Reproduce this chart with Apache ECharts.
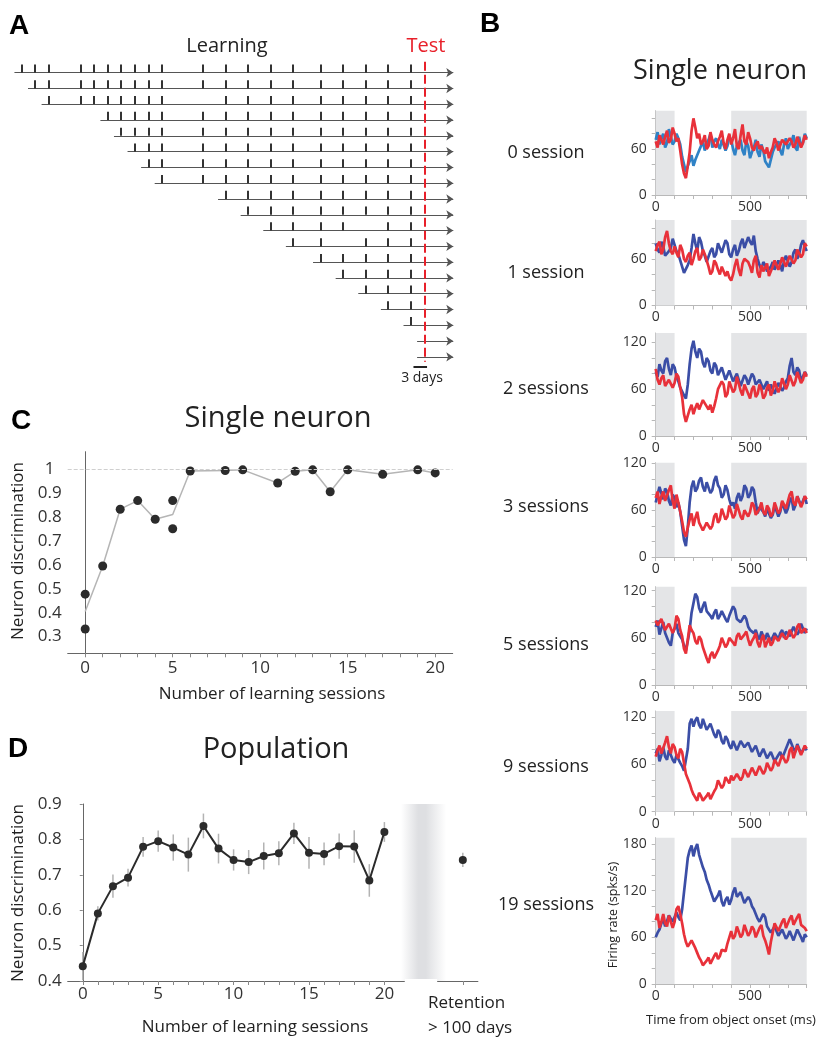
<!DOCTYPE html>
<html>
<head>
<meta charset="utf-8">
<script src="https://cdn.jsdelivr.net/npm/echarts@6/dist/echarts.min.js"></script>
<style>
  html, body { margin: 0; padding: 0; background: #fff; }
  #chart { width: 817px; height: 1052px; }
</style>
</head>
<body>
<div id="chart"></div>
<script>
const FONT = '"Open Sans", "Noto Sans", sans-serif';
const INK = '#2b2b2b';
const RED = '#e8313a';
const BLUE = '#3b4ea6';

// ---------- A: learning schedule (days) ----------
const sessionDays = [0, 3, 6, 13, 16, 19, 22, 25, 28, 31, 40, 45, 50, 55, 60, 66, 71, 76, 81, 86];
const testDay = 89;
// which session columns each object (row) was shown in
const rowSessions = [
  [0,1,2,3,4,5,6,7,8,9,10,11,12,13,14,15,16,17,18,19],
  [1,2,3,4,5,6,7,8,9,10,11,12,13,14,15,16,17,18,19],
  [2,3,4,5,6,7,8,9,11,12,13,14,15,16,17,18,19],
  [5,6,7,8,9,10,11,12,13,14,15,16,17,18,19],
  [6,7,8,9,10,11,12,13,14,15,16,17,18,19],
  [7,8,9,10,11,12,13,14,15,16,17,18,19],
  [8,9,10,11,12,13,14,15,16,17,18,19],
  [9,10,11,12,13,14,15,16,17,18,19],
  [11,12,13,14,15,16,17,18,19],
  [12,13,14,15,16,17,18,19],
  [13,14,15,16,18,19],
  [14,15,17,18,19],
  [15,16,17,18,19],
  [16,17,18,19],
  [17,18,19],
  [18,19],
  [19],
  [],
  []
];

// ---------- B: single neuron firing rates (spks/s), every 10 ms from 0 to 800 ms ----------
const blue0 = [72,82,66,74,80,62,68,86,84,66,70,80,74,66,50,40,30,38,44,52,38,46,46,58,64,70,58,66,72,80,62,70,74,66,60,72,70,58,64,76,72,60,52,64,66,72,58,52,70,64,48,56,62,72,56,50,66,58,44,40,36,46,56,62,64,70,58,52,66,74,60,66,70,78,62,58,76,64,68,80,74];
const red0  = [70,62,78,72,66,76,84,68,72,88,80,70,74,58,40,28,22,38,56,84,100,88,74,80,66,70,78,60,64,82,72,66,62,70,76,84,68,60,72,80,66,74,86,64,60,78,92,70,66,82,74,62,58,66,70,60,64,58,54,62,48,56,62,74,68,58,60,72,72,66,64,74,70,62,66,76,74,62,68,78,72];
const blue1 = [80,72,68,82,76,64,62,70,74,86,78,70,66,58,50,42,44,52,58,74,92,80,70,88,82,70,64,56,58,70,74,62,66,80,78,68,70,84,80,66,62,72,78,64,70,80,86,74,76,88,82,78,90,70,60,52,46,56,52,44,44,50,56,46,48,58,52,44,58,64,62,50,56,68,72,60,66,78,84,76,70];
const red1  = [70,78,82,66,72,88,96,80,70,66,76,68,62,78,72,60,56,64,68,52,60,70,74,58,62,72,66,58,50,40,44,58,54,46,40,50,48,38,44,36,32,40,52,60,46,38,54,60,62,56,50,42,58,64,42,36,52,44,46,54,38,44,50,58,56,46,48,62,60,50,52,64,66,54,58,72,70,62,66,80,76];
const blue2 = [82,76,92,84,80,96,100,86,78,92,88,76,70,62,60,52,48,66,92,112,122,108,100,112,108,94,88,100,96,84,80,94,90,78,76,88,86,72,74,84,82,70,70,80,78,64,66,78,74,66,68,80,76,66,64,72,70,60,62,70,58,66,64,54,56,68,66,58,62,70,74,90,100,82,78,88,84,70,72,82,78];
const red2  = [86,72,66,74,78,64,62,72,74,62,68,80,76,62,50,28,18,26,34,40,28,36,42,34,36,46,44,38,34,40,30,38,48,60,58,70,66,50,54,70,72,56,60,76,74,58,52,66,68,54,48,60,64,50,54,66,60,48,52,62,66,52,58,70,70,56,62,74,76,60,66,78,80,64,70,82,84,68,72,82,76];
const blue3 = [70,80,90,82,74,88,84,72,66,80,76,64,70,58,40,22,14,38,70,90,98,84,88,98,102,90,84,96,96,82,86,98,104,92,88,76,80,92,86,74,66,70,62,76,82,72,78,92,88,76,80,90,86,70,56,64,64,58,52,62,62,50,54,66,66,52,58,70,70,56,62,72,76,60,66,78,80,66,72,78,68];
const red3  = [76,84,68,78,84,72,70,86,92,72,62,80,70,58,46,32,26,38,48,56,40,50,58,44,42,34,36,44,46,36,40,52,56,44,48,62,60,48,52,66,64,50,54,68,66,52,48,60,62,52,58,70,66,54,52,62,70,58,54,66,62,52,56,70,68,56,60,72,74,62,64,80,84,70,66,78,80,64,70,78,74];
const blue5 = [74,82,64,72,80,66,60,54,50,66,72,78,66,62,58,50,44,56,70,92,104,116,112,98,92,100,106,94,96,88,84,92,96,84,88,94,92,84,80,88,90,100,96,84,86,80,78,88,84,74,70,68,66,70,62,58,68,62,58,66,64,56,56,66,62,58,66,70,60,68,70,62,64,74,72,64,68,78,76,66,72];
const red5  = [82,76,74,84,84,70,70,78,80,66,72,88,84,70,62,46,40,58,76,70,66,56,52,62,58,48,46,34,28,38,42,34,36,44,50,60,58,48,52,60,62,54,50,62,66,58,56,64,68,58,50,56,60,66,54,48,58,64,48,54,60,50,54,62,64,56,58,66,68,58,62,70,72,60,64,74,78,66,68,72,66];
const blue9 = [74,80,64,72,82,70,66,78,76,66,62,72,70,62,58,52,50,80,112,118,108,116,120,110,106,118,116,104,102,112,110,98,94,104,100,90,86,96,92,84,80,90,88,78,76,90,92,82,80,88,86,76,74,84,82,70,70,80,78,68,66,76,74,64,62,72,76,68,70,80,82,92,90,80,76,86,84,74,72,82,78];
const red9  = [70,78,84,74,72,88,96,82,74,86,82,72,68,80,76,62,48,42,36,28,22,18,14,24,20,14,12,20,24,16,18,26,30,40,38,30,34,44,42,36,46,40,38,48,50,40,44,54,52,44,46,56,56,46,48,58,58,48,52,62,62,52,56,66,68,58,60,72,74,62,66,78,82,68,70,84,86,72,74,84,80];
const blue19 = [60,66,70,78,84,74,76,88,90,80,80,92,86,82,96,118,140,162,172,178,164,174,180,166,158,150,144,134,128,120,118,106,108,114,120,106,100,108,112,102,108,118,124,112,110,118,116,104,102,112,108,100,96,90,84,80,78,90,86,74,70,66,64,74,72,62,60,70,68,58,62,68,66,56,58,70,72,60,54,64,60];
const red19  = [82,90,72,80,90,78,74,88,86,72,80,96,100,90,78,64,54,48,46,56,58,46,40,34,30,24,22,30,34,26,28,36,40,32,36,44,46,42,52,60,68,58,62,74,72,60,64,76,74,62,66,74,70,60,62,72,76,62,56,48,38,54,66,78,78,68,70,80,84,72,72,84,88,76,74,86,90,76,78,72,68];
const sessionLabels = ['0 session', '1 session', '2 sessions', '3 sessions', '5 sessions', '9 sessions', '19 sessions'];
const blueTraces = [blue0, blue1, blue2, blue3, blue5, blue9, blue19];
const redTraces = [red0, red1, red2, red3, red5, red9, red19];
const rateMax = [110, 110, 132, 121, 125, 128, 188];
const traceStepMs = 10;

// ---------- C: single neuron discrimination ----------
const cSessions = [0, 0, 1, 2, 3, 4, 5, 5, 6, 8, 9, 11, 12, 13, 14, 15, 17, 19, 20];
const cNeuron = [0.478, 0.332, 0.596, 0.834, 0.870, 0.792, 0.870, 0.752, 0.994, 0.996, 0.999, 0.944, 0.993, 0.999, 0.907, 0.999, 0.980, 0.999, 0.986];
const cMeanSessions = [0, 1, 2, 3, 4, 5, 6, 8, 9, 11, 12, 13, 14, 15, 17, 19, 20];
const cMean = [0.405, 0.596, 0.834, 0.870, 0.792, 0.812, 0.994, 0.996, 0.999, 0.944, 0.993, 0.999, 0.907, 0.999, 0.980, 0.999, 0.986];

// ---------- D: population discrimination ----------
const dSessions = [0,1,2,3,4,5,6,7,8,9,10,11,12,13,14,15,16,17,18,19,20];
const dMean = [0.442,0.591,0.668,0.692,0.779,0.795,0.777,0.757,0.838,0.774,0.742,0.736,0.753,0.761,0.817,0.762,0.759,0.781,0.780,0.684,0.821];
const dErr  = [0.040,0.020,0.033,0.025,0.028,0.030,0.037,0.048,0.035,0.042,0.030,0.034,0.038,0.034,0.030,0.045,0.032,0.036,0.046,0.046,0.028];
const retentionX = 25.2;
const retentionMean = 0.742;
const retentionErr = 0.02;

// ---------- layout ----------
const bLayout = [
  { top: 110.7, bottom: 195.0, labelY: 153 },
  { top: 220.0, bottom: 305.5, labelY: 273 },
  { top: 333.0, bottom: 436.0, labelY: 389 },
  { top: 462.7, bottom: 557.0, labelY: 507 },
  { top: 586.7, bottom: 685.0, labelY: 645 },
  { top: 711.0, bottom: 811.7, labelY: 767 },
  { top: 837.7, bottom: 984.0, labelY: 905 }
];

const chart = echarts.init(document.getElementById('chart'));

const grids = [], xAxes = [], yAxes = [], series = [];
const graphics = [];

function txt(text, x, y, size, opts) {
  opts = opts || {};
  graphics.push({
    type: 'text', x: x, y: y, rotation: opts.rotation || 0, z: 100,
    style: {
      text: text, fill: opts.color || '#222',
      font: (opts.weight || 'normal') + ' ' + size + 'px ' + (opts.family || FONT),
      align: opts.align || 'center', verticalAlign: opts.vAlign || 'middle'
    }
  });
}

// Panel A
grids.push({ left: 8.1, top: 41.1, width: 447.9, height: 331.6 });
xAxes.push({ gridIndex: 0, type: 'value', min: -3, max: 96, show: false });
yAxes.push({ gridIndex: 0, type: 'value', min: -2, max: 19, inverse: true, show: false });
series.push({
  type: 'lines', coordinateSystem: 'cartesian2d', xAxisIndex: 0, yAxisIndex: 0, silent: true,
  symbol: ['none', 'arrow'], symbolSize: 7, z: 2,
  lineStyle: { color: '#555', width: 1.1, opacity: 1 },
  data: rowSessions.map((cols, r) => {
    const first = cols.length ? sessionDays[cols[0]] : testDay;
    return { coords: [[first - 1.6, r], [95.4, r]] };
  })
});
series.push({
  type: 'lines', coordinateSystem: 'cartesian2d', xAxisIndex: 0, yAxisIndex: 0, silent: true, z: 3,
  lineStyle: { color: '#333', width: 2, opacity: 1 },
  data: rowSessions.flatMap((cols, r) => cols.map(c => ({ coords: [[sessionDays[c], r], [sessionDays[c], r - 0.52]] })))
});
series.push({
  type: 'lines', coordinateSystem: 'cartesian2d', xAxisIndex: 0, yAxisIndex: 0, silent: true, z: 4,
  lineStyle: { color: '#e8202a', width: 2, type: [9, 4], opacity: 1 },
  data: [{ coords: [[testDay, -0.7], [testDay, 18.3]] }]
});
series.push({
  type: 'lines', coordinateSystem: 'cartesian2d', xAxisIndex: 0, yAxisIndex: 0, silent: true, z: 4,
  lineStyle: { color: '#222', width: 2, opacity: 1 },
  data: [{ coords: [[testDay - 2.4, 18.62], [testDay + 0.6, 18.62]] }]
});

// Panel B
bLayout.forEach((L, i) => {
  const gi = 1 + i;
  grids.push({ left: 655.7, width: 151, top: L.top, height: L.bottom - L.top });
  xAxes.push({
    gridIndex: gi, type: 'value', min: 0, max: 800,
    axisLine: { show: true, lineStyle: { color: '#b8b8b8', width: 1 } },
    axisTick: { show: true, length: 4, customValues: [0,100,200,300,400,500,600,700,800], lineStyle: { color: '#b8b8b8' } },
    axisLabel: { customValues: [0, 500], color: '#333', fontSize: 14, fontFamily: FONT, margin: 5 },
    splitLine: { show: false }
  });
  const yTicks = [], yLabels = [];
  for (let v = 0; v <= rateMax[i]; v += 20) yTicks.push(v);
  for (let v = 0; v <= rateMax[i]; v += 60) yLabels.push(v);
  yAxes.push({
    gridIndex: gi, type: 'value', min: 0, max: rateMax[i],
    axisLine: { show: true, lineStyle: { color: '#b8b8b8', width: 1 } },
    axisTick: { show: true, length: 4, customValues: yTicks, lineStyle: { color: '#b8b8b8' } },
    axisLabel: { customValues: yLabels, color: '#333', fontSize: 14, fontFamily: FONT, margin: 9 },
    splitLine: { show: false }
  });
  series.push({
    type: 'line', xAxisIndex: gi, yAxisIndex: gi, data: [], silent: true, z: 1,
    markArea: {
      silent: true, itemStyle: { color: '#e4e5e7' },
      data: [[{ xAxis: 0 }, { xAxis: 100 }], [{ xAxis: 400 }, { xAxis: 800 }]]
    }
  });
  series.push({
    type: 'line', xAxisIndex: gi, yAxisIndex: gi, showSymbol: false, silent: true, z: 3,
    lineStyle: { color: i === 0 ? '#2f82c6' : BLUE, width: 2.7 },
    data: blueTraces[i].map((v, k) => [k * traceStepMs, v])
  });
  series.push({
    type: 'line', xAxisIndex: gi, yAxisIndex: gi, showSymbol: false, silent: true, z: 4,
    lineStyle: { color: RED, width: 2.7 },
    data: redTraces[i].map((v, k) => [k * traceStepMs, v])
  });
  txt(sessionLabels[i], 546, L.labelY, 18);
});

// Panel C
grids.push({ left: 67.7, top: 451.7, width: 385, height: 201.6 });
xAxes.push({
  gridIndex: 8, type: 'value', min: -1, max: 21,
  axisLine: { show: true, lineStyle: { color: '#666', width: 1 } },
  axisTick: { show: true, length: 4, customValues: dSessions, lineStyle: { color: '#888' } },
  axisLabel: { customValues: [0, 5, 10, 15, 20], color: '#333', fontSize: 17, fontFamily: FONT, margin: 6 },
  splitLine: { show: false }
});
yAxes.push({
  gridIndex: 8, type: 'value', min: 0.23, max: 1.075,
  axisLine: { show: true, lineStyle: { color: '#666', width: 1 } },
  axisTick: { show: false },
  axisLabel: {
    customValues: [0.3, 0.4, 0.5, 0.6, 0.7, 0.8, 0.9, 1],
    formatter: v => (Math.abs(v - 1) < 1e-6 ? '1' : v.toFixed(1)),
    color: '#333', fontSize: 17, fontFamily: FONT, margin: 18, align: 'center'
  },
  splitLine: { show: false }
});
series.push({
  type: 'line', xAxisIndex: 8, yAxisIndex: 8, showSymbol: false, silent: true, z: 2,
  lineStyle: { color: '#b5b5b5', width: 1.5 },
  data: cMeanSessions.map((s, i) => [s, cMean[i]]),
  markLine: {
    silent: true, symbol: 'none', label: { show: false },
    lineStyle: { color: '#cfcfcf', type: 'dashed', width: 1 },
    data: [{ yAxis: 1 }]
  }
});
series.push({
  type: 'scatter', xAxisIndex: 8, yAxisIndex: 8, silent: true, z: 3,
  symbolSize: 9, itemStyle: { color: INK, opacity: 1 },
  data: cSessions.map((s, i) => [s, cNeuron[i]])
});

// Panel D
grids.push({ left: 67.7, top: 804, width: 410.2, height: 177 });
xAxes.push({
  gridIndex: 9, type: 'value', min: -1, max: 26.2,
  axisLine: { show: true, lineStyle: { color: '#666', width: 1 } },
  axisTick: { show: true, length: 4, customValues: dSessions.concat([retentionX]), lineStyle: { color: '#888' } },
  axisLabel: { customValues: [0, 5, 10, 15, 20], color: '#333', fontSize: 17, fontFamily: FONT, margin: 5 },
  splitLine: { show: false }
});
yAxes.push({
  gridIndex: 9, type: 'value', min: 0.4, max: 0.9,
  axisLine: { show: true, lineStyle: { color: '#666', width: 1 } },
  axisTick: { show: true, length: 3, customValues: [0.4, 0.5, 0.6, 0.7, 0.8, 0.9], lineStyle: { color: '#888' } },
  axisLabel: {
    customValues: [0.4, 0.5, 0.6, 0.7, 0.8, 0.9],
    formatter: v => v.toFixed(1),
    color: '#333', fontSize: 17, fontFamily: FONT, margin: 18, align: 'center'
  },
  splitLine: { show: false }
});
series.push({
  type: 'line', xAxisIndex: 9, yAxisIndex: 9, data: [], silent: true, z: 1,
  markArea: {
    silent: true,
    itemStyle: {
      color: {
        type: 'linear', x: 0, y: 0, x2: 1, y2: 0,
        colorStops: [
          { offset: 0, color: 'rgba(222,223,226,0)' },
          { offset: 0.38, color: 'rgba(222,223,226,1)' },
          { offset: 0.55, color: 'rgba(222,223,226,1)' },
          { offset: 1, color: 'rgba(222,223,226,0)' }
        ]
      }
    },
    data: [[{ xAxis: 21.1 }, { xAxis: 24.1 }]]
  }
});
const errBar = (params, api) => {
  const x = api.value(0), m = api.value(1), e = api.value(2);
  const p1 = api.coord([x, m - e]), p2 = api.coord([x, m + e]);
  return { type: 'line', shape: { x1: p1[0], y1: p1[1], x2: p2[0], y2: p2[1] }, style: { stroke: '#b3b3b3', lineWidth: 1.5 } };
};
series.push({
  type: 'custom', xAxisIndex: 9, yAxisIndex: 9, silent: true, z: 2, renderItem: errBar,
  data: dSessions.map((s, i) => [s, dMean[i], dErr[i]]).concat([[retentionX, retentionMean, retentionErr]])
});
series.push({
  type: 'line', xAxisIndex: 9, yAxisIndex: 9, silent: true, z: 3,
  symbol: 'circle', symbolSize: 8, itemStyle: { color: INK },
  lineStyle: { color: INK, width: 2 },
  data: dSessions.map((s, i) => [s, dMean[i]])
});
series.push({
  type: 'scatter', xAxisIndex: 9, yAxisIndex: 9, silent: true, z: 3,
  symbolSize: 8, itemStyle: { color: INK, opacity: 1 },
  data: [[retentionX, retentionMean]]
});

// texts
const LETTER = '"Liberation Sans", Arial, sans-serif';
txt('A', 9, 26, 28, { weight: 'bold', family: LETTER, color: '#000', align: 'left' });
txt('B', 480, 24, 28, { weight: 'bold', family: LETTER, color: '#000', align: 'left' });
txt('C', 11, 421, 28, { weight: 'bold', family: LETTER, color: '#000', align: 'left' });
txt('D', 8, 749, 28, { weight: 'bold', family: LETTER, color: '#000', align: 'left' });
txt('Learning', 227, 46, 20);
txt('Test', 426, 46, 20, { color: '#e8202a' });
txt('3 days', 422, 378, 14);
txt('Single neuron', 720, 71, 27);
txt('Firing rate (spks/s)', 613, 915, 12.5, { rotation: Math.PI / 2 });
txt('Time from object onset (ms)', 731, 1020, 13);
txt('Single neuron', 278, 419, 29);
txt('Neuron discrimination', 18, 551, 17, { rotation: Math.PI / 2 });
txt('Number of learning sessions', 272, 694, 17);
txt('Population', 276, 750, 29);
txt('Neuron discrimination', 18, 893, 17, { rotation: Math.PI / 2 });
txt('Number of learning sessions', 255, 1027, 17);
txt('Retention', 428, 1003, 17, { align: 'left' });
txt('> 100 days', 428, 1028, 17, { align: 'left' });

chart.setOption({
  animation: false,
  backgroundColor: '#fff',
  textStyle: { fontFamily: FONT },
  grid: grids,
  xAxis: xAxes,
  yAxis: yAxes,
  series: series,
  graphic: graphics
});

// break in the population x axis between session 20 and retention
const g1 = chart.convertToPixel({ gridIndex: 9 }, [21.35, 0.4]);
const g2 = chart.convertToPixel({ gridIndex: 9 }, [23.5, 0.4]);
graphics.push({ type: 'rect', z: 90, shape: { x: g1[0], y: g1[1] - 2, width: g2[0] - g1[0], height: 5 }, style: { fill: '#fff' } });
chart.setOption({ graphic: graphics });
</script>
</body>
</html>
